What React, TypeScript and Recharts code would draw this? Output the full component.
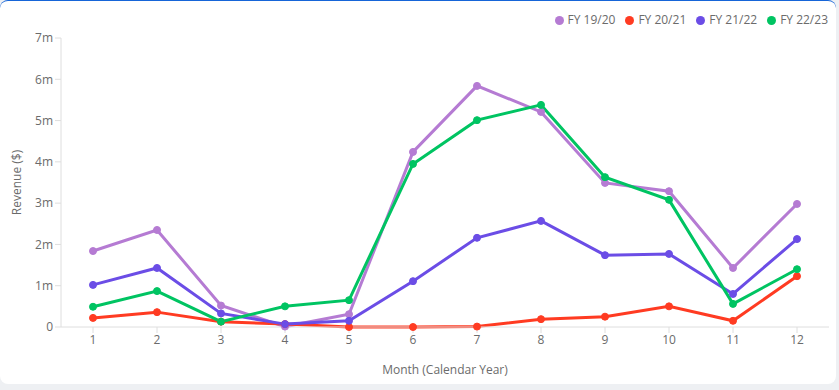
import { CartesianGrid, Legend, Line, LineChart, XAxis, YAxis } from 'recharts'

const months = ['1', '2', '3', '4', '5', '6', '7', '8', '9', '10', '11', '12']
const fy1920 = [1.84, 2.35, 0.52, 0.01, 0.31, 4.24, 5.84, 5.21, 3.49, 3.29, 1.43, 2.98]
const fy2021 = [0.22, 0.36, 0.13, 0.07, 0.0, 0.0, 0.01, 0.19, 0.25, 0.5, 0.15, 1.23]
const fy2122 = [1.02, 1.43, 0.33, 0.07, 0.15, 1.11, 2.16, 2.57, 1.74, 1.77, 0.8, 2.13]
const fy2223 = [0.49, 0.87, 0.13, 0.5, 0.65, 3.95, 5.01, 5.38, 3.63, 3.08, 0.56, 1.4]
const yTicks = [0, 1, 2, 3, 4, 5, 6, 7]

const series = [
  { key: 'fy1920', name: 'FY 19/20', color: '#b57bd3', values: fy1920 },
  { key: 'fy2021', name: 'FY 20/21', color: '#ff3b22', values: fy2021 },
  { key: 'fy2122', name: 'FY 21/22', color: '#6b4de6', values: fy2122 },
  { key: 'fy2223', name: 'FY 22/23', color: '#00c462', values: fy2223 },
]

const data = months.map((m, i) => {
  const row: Record<string, string | number> = { month: m }
  series.forEach((s) => {
    row[s.key] = s.values[i] * 1_000_000
  })
  return row
})

const font = '"Open Sans", sans-serif'
const muted = '#6b6b6b'
const axisGrey = '#dedede'

const fmt = (v: number) => (v === 0 ? '0' : `${v / 1_000_000}m`)

export default function App() {
  return (
    <div style={{ position: 'absolute', left: 0, top: 0, width: 839, height: 390, background: '#eef0f3', fontFamily: font }}>
      <div
        style={{
          position: 'absolute',
          left: 0,
          top: 0,
          width: 836,
          height: 384,
          background: '#fff',
          borderTop: '1px solid #1665d8',
          borderRadius: 8,
          boxSizing: 'border-box',
          overflow: 'hidden',
        }}
      >
        <LineChart width={836} height={383} data={data} margin={{ top: 13, right: 7, bottom: 7, left: 0 }}>
          <CartesianGrid horizontal={false} vertical={false} />
          <XAxis
            dataKey="month"
            height={50}
            stroke={axisGrey}
            padding={{ left: 32, right: 32 }}
            tick={{ fontSize: 12, fill: muted, fontFamily: font }}
            tickSize={6}
            label={{ value: 'Month (Calendar Year)', position: 'insideBottom', offset: 3, fill: muted, fontSize: 12, fontFamily: font }}
          />
          <YAxis
            width={61}
            stroke={axisGrey}
            domain={[0, 7_000_000]}
            ticks={yTicks.map((t) => t * 1_000_000)}
            tickFormatter={fmt}
            tick={{ fontSize: 12, fill: muted, fontFamily: font }}
            tickSize={6}
            label={({ viewBox }: any) => (
              <text
                x={16}
                y={viewBox.y + viewBox.height / 2}
                transform={`rotate(-90 16 ${viewBox.y + viewBox.height / 2})`}
                textAnchor="middle"
                dominantBaseline="central"
                fill={muted}
                fontSize={12}
                fontFamily={font}
              >
                Revenue ($)
              </text>
            )}
          />
          <Legend
            verticalAlign="top"
            align="right"
            iconType="circle"
            iconSize={9}
            height={24}
            wrapperStyle={{ fontSize: 12, fontFamily: font, color: muted, top: 10, right: -2 }}
            formatter={(value: string) => <span style={{ color: muted }}>{value}</span>}
          />
          {series.map((s) => (
            <Line
              key={s.key}
              dataKey={s.key}
              name={s.name}
              stroke={s.color}
              strokeWidth={3}
              dot={{ r: 3.5, fill: s.color, stroke: s.color, strokeWidth: 1 }}
              activeDot={false}
              isAnimationActive={false}
            />
          ))}
        </LineChart>
      </div>
    </div>
  )
}
